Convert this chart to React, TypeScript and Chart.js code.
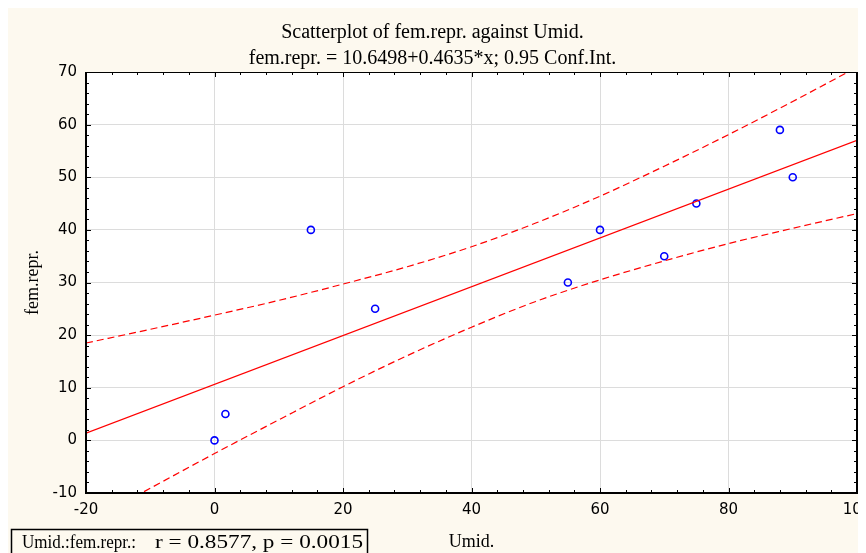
import React, { useEffect, useRef } from "react";
import { Chart, registerables } from "chart.js";

Chart.register(...registerables);

// ---- data ----
const umid = [0, 1.7, 15, 25, 55, 60, 70, 75, 88, 90];
const femRepr = [0, 5, 40, 25, 30, 40, 35, 45, 59, 50];

// fitted line end points (x = -20 and x = 100)
const fitX = [-20, 100];
const fitY = [1.38, 57.0];

// 0.95 confidence band read at regular x positions
const bandX = [-20, -10, 0, 10, 20, 30, 40, 50, 60, 70, 80, 90, 100];
const upperBand = [18.5, 21.1, 23.8, 26.6, 29.7, 33.0, 36.8, 41.3, 46.4, 52.1, 58.1, 64.4, 70.9];
const lowerBand = [-15.7, -9.1, -2.5, 3.9, 10.2, 16.1, 21.5, 26.4, 30.5, 34.1, 37.4, 40.3, 43.1];

const xTickValues = [-20, 0, 20, 40, 60, 80, 100];
const yTickValues = [-10, 0, 10, 20, 30, 40, 50, 60, 70];
const xMinorStep = 4;
const yMinorStep = 2;

const titleLines = [
  "Scatterplot of fem.repr. against Umid.",
  "fem.repr. = 10.6498+0.4635*x; 0.95 Conf.Int.",
];
const xTitle = "Umid.";
const yTitle = "fem.repr.";
const statsLabel = "Umid.:fem.repr.:";
const statsValues = "r = 0.8577, p = 0.0015";

const CREAM = "#fdf9ef";
const RED = "#ff0000";
const BLUE = "#0000ff";

function stretchedText(ctx: any, text: string, x: number, y: number, width: number) {
  const w = ctx.measureText(text).width;
  ctx.save();
  ctx.translate(x, y);
  ctx.scale(width / w, 1);
  ctx.fillText(text, 0, 0);
  ctx.restore();
}

const framePlugin = {
  id: "framePlugin",
  beforeDraw(chart: any) {
    const { ctx, width, height, chartArea } = chart;
    ctx.save();
    ctx.fillStyle = CREAM;
    ctx.fillRect(0, 0, width, height);
    ctx.fillStyle = "#ffffff";
    ctx.fillRect(chartArea.left, chartArea.top, chartArea.right - chartArea.left, chartArea.bottom - chartArea.top);
    ctx.restore();
  },
  afterDraw(chart: any) {
    const { ctx, chartArea } = chart;
    const { left, right, top, bottom } = chartArea;
    const xs = chart.scales.x;
    const ys = chart.scales.y;
    ctx.save();
    ctx.strokeStyle = "#000";
    // minor / major inner ticks
    ctx.lineWidth = 1;
    ctx.beginPath();
    for (let v = xs.min; v <= xs.max + 1e-9; v += xMinorStep) {
      const px = Math.round(xs.getPixelForValue(v)) + 0.5;
      const len = xTickValues.includes(v) ? 5 : 3;
      ctx.moveTo(px, bottom);
      ctx.lineTo(px, bottom - len);
      ctx.moveTo(px, top);
      ctx.lineTo(px, top + len);
    }
    for (let v = ys.min; v <= ys.max + 1e-9; v += yMinorStep) {
      const py = Math.round(ys.getPixelForValue(v)) + 0.5;
      const len = yTickValues.includes(v) ? 5 : 3;
      ctx.moveTo(left, py);
      ctx.lineTo(left + len, py);
      ctx.moveTo(right, py);
      ctx.lineTo(right - len, py);
    }
    ctx.stroke();
    // frame
    ctx.lineWidth = 1;
    ctx.beginPath();
    ctx.moveTo(left, top + 0.5);
    ctx.lineTo(right, top + 0.5);
    ctx.stroke();
    ctx.lineWidth = 2;
    ctx.beginPath();
    ctx.moveTo(left, top);
    ctx.lineTo(left, bottom);
    ctx.lineTo(right, bottom);
    ctx.lineTo(right, top);
    ctx.stroke();

    // stats box
    ctx.lineWidth = 1.5;
    ctx.strokeStyle = "#000";
    ctx.strokeRect(3.5, 521.5, 356, 30);
    ctx.fillStyle = "#000";
    ctx.font = "18px 'Liberation Serif'";
    ctx.textBaseline = "alphabetic";
    ctx.textAlign = "left";
    stretchedText(ctx, statsLabel, 14, 540, 114);
    stretchedText(ctx, statsValues, 147, 540, 208);
    ctx.restore();
  },
};

export default function App() {
  const ref = useRef<HTMLCanvasElement | null>(null);

  useEffect(() => {
    if (!ref.current) return;
    const chart = new Chart(ref.current, {
      type: "scatter",
      data: {
        datasets: [
          {
            type: "line",
            label: "upper",
            data: bandX.map((x, i) => ({ x, y: upperBand[i] })),
            borderColor: RED,
            borderWidth: 1.2,
            borderDash: [7, 4],
            pointRadius: 0,
            cubicInterpolationMode: "monotone",
            fill: false,
          } as any,
          {
            type: "line",
            label: "lower",
            data: bandX.map((x, i) => ({ x, y: lowerBand[i] })),
            borderColor: RED,
            borderWidth: 1.2,
            borderDash: [7, 4],
            pointRadius: 0,
            cubicInterpolationMode: "monotone",
            fill: false,
          } as any,
          {
            type: "line",
            label: "fit",
            data: fitX.map((x, i) => ({ x, y: fitY[i] })),
            borderColor: RED,
            borderWidth: 1.3,
            pointRadius: 0,
            fill: false,
          } as any,
          {
            label: "fem.repr.",
            data: umid.map((x, i) => ({ x, y: femRepr[i] })),
            pointStyle: "circle",
            pointRadius: 3.5,
            pointBorderWidth: 1.6,
            pointBorderColor: BLUE,
            pointBackgroundColor: "rgba(0,0,0,0)",
            borderColor: BLUE,
            backgroundColor: "rgba(0,0,0,0)",
          } as any,
        ],
      },
      options: {
        animation: false,
        responsive: false,
        maintainAspectRatio: false,
        layout: { padding: { left: 0, right: 9, top: 0, bottom: 0 } },
        plugins: {
          legend: { display: false },
          tooltip: { enabled: false },
          title: {
            display: true,
            text: titleLines,
            color: "#000",
            font: { family: "'Liberation Serif'", size: 20, weight: "normal", lineHeight: 1.3 },
            padding: { top: 12, bottom: 0 },
          },
        },
        scales: {
          x: {
            type: "linear",
            min: -20,
            max: 100,
            afterBuildTicks: (s: any) => {
              s.ticks = xTickValues.map((v) => ({ value: v }));
            },
            afterFit: (s: any) => {
              s.height = 60;
              s.paddingLeft = 0;
              s.paddingRight = 0;
            },
            ticks: {
              color: "#000",
              font: { family: "'DejaVu Sans'", size: 15 },
              padding: 8,
              maxRotation: 0,
              autoSkip: false,
            },
            grid: { color: "#dcdcdc", lineWidth: 1, drawTicks: false },
            border: { display: false },
            title: {
              display: true,
              text: xTitle,
              color: "#000",
              font: { family: "'Liberation Serif'", size: 18 },
              padding: { top: 10, bottom: 0 },
            },
          },
          y: {
            type: "linear",
            min: -10,
            max: 70,
            afterBuildTicks: (s: any) => {
              s.ticks = yTickValues.map((v) => ({ value: v }));
            },
            afterFit: (s: any) => {
              s.width = 78;
              s.paddingTop = 0;
              s.paddingBottom = 0;
            },
            ticks: {
              color: "#000",
              font: { family: "'DejaVu Sans'", size: 15 },
              padding: 9,
              autoSkip: false,
            },
            grid: { color: "#dcdcdc", lineWidth: 1, drawTicks: false },
            border: { display: false },
            title: {
              display: true,
              text: yTitle,
              color: "#000",
              font: { family: "'Liberation Serif'", size: 18 },
              padding: { top: 14, bottom: 0 },
            },
          },
        },
      },
      plugins: [framePlugin],
    });
    return () => chart.destroy();
  }, []);

  return (
    <canvas
      ref={ref}
      width={858}
      height={545}
      style={{ display: "block", width: 858, height: 545 }}
    />
  );
}
